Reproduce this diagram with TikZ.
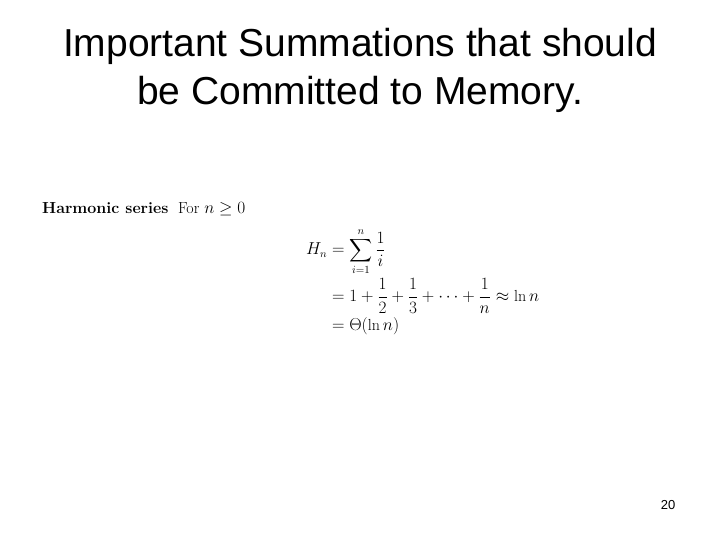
\documentclass[tikz,border=0pt]{standalone}
\usepackage{amsmath, amssymb}
\usepackage{fontspec}
\newfontfamily\slidefont{Liberation Sans}
\usepackage{tikz}

\begin{document}
\begin{tikzpicture}[x=1pt, y=-1pt]
\tikzset{title/.style={font=\slidefont\fontsize{39}{48}\selectfont, align=center},
         mathtext/.style={font=\fontsize{16}{19}\selectfont, inner sep=0pt}}
\useasboundingbox (0, 0) rectangle (720, 540);
\node[title] (heading) at (360, 70) {Important Summations that should\\be Committed to Memory.};
\node[mathtext, anchor=west] (label) at (42, 209) {\textbf{Harmonic series}\ \ For $n \geq 0$};
\node[mathtext, anchor=north west] (formula) at (306, 228) {$\displaystyle
\begin{aligned}
H_n &= \sum_{i=1}^{n} \frac{1}{i}\\
&= 1 + \frac{1}{2} + \frac{1}{3} + \dots + \frac{1}{n} \approx \ln n\\
&= \Theta(\ln n)
\end{aligned}$};
\node[font=\slidefont\fontsize{13}{15}\selectfont] (page) at (668, 505) {20};
\end{tikzpicture}
\end{document}
